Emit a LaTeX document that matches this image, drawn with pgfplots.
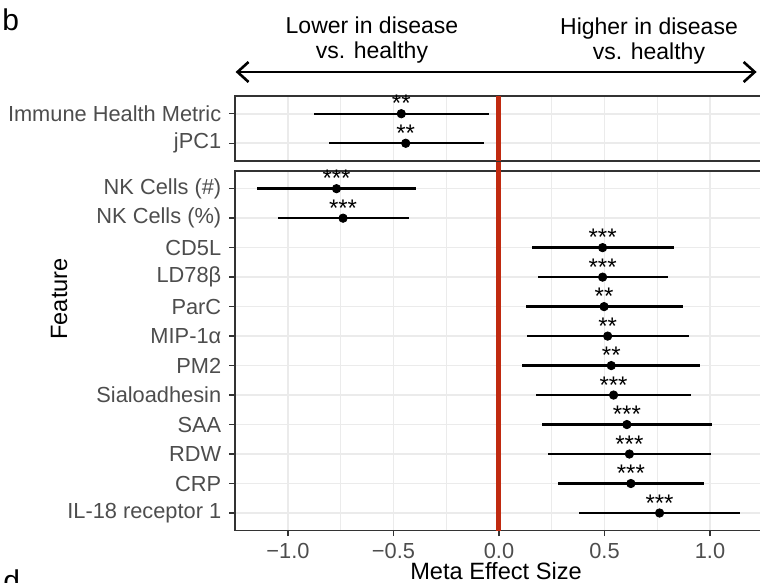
\documentclass[border=0pt]{standalone}
\usepackage{pgfplots}
\pgfplotsset{compat=1.18}
\usepackage{pgfplotstable}
\usepackage{fontspec}
\setmainfont{Liberation Sans}
\usetikzlibrary{arrows.meta}
\definecolor{redline}{RGB}{192,42,16}
\definecolor{gridc}{RGB}{235,235,235}
\definecolor{borderc}{RGB}{51,51,51}
\definecolor{ticktext}{RGB}{77,77,77}

\pgfplotstableread{
row est lo hi sig
12 -0.770 -1.147 -0.392 ***
11 -0.739 -1.048 -0.428 ***
10 0.491 0.157 0.829 ***
9 0.491 0.184 0.800 ***
8 0.498 0.128 0.872 **
7 0.515 0.133 0.899 **
6 0.532 0.111 0.952 **
5 0.543 0.174 0.911 ***
4 0.606 0.206 1.010 ***
3 0.618 0.230 1.005 ***
2 0.625 0.278 0.971 ***
1 0.761 0.381 1.140 ***
}\bottomdata

\pgfplotstableread{
row est lo hi sig
2 -0.463 -0.876 -0.045 **
1 -0.442 -0.807 -0.072 **
}\topdata

\pgfplotsset{
  forest/.style={
    scale only axis,
    anchor=south west,
    width=264.4pt,
    xmin=-1.252, xmax=1.254,
    xtick={-1,-0.5,0,0.5,1},
    minor xtick={-0.75,-0.25,0.25,0.75},
    grid=both,
    major grid style={line width=0.8pt, draw=gridc},
    minor grid style={line width=0.4pt, draw=gridc},
    axis line style={line width=0.7pt, draw=borderc},
    tick style={line width=0.7pt, draw=borderc},
    minor tick length=0pt,
    major tick length=2.75pt,
    tick align=outside,
    tick pos=left,
    ticklabel style={font=\fontsize{10.9}{13}\selectfont, text=ticktext},
    yticklabel style={anchor=east, xshift=-0.5pt},
  },
  cistyle/.style={
    only marks, mark=*, mark size=2.1pt, black,
    mark options={fill=black, draw=black},
    point meta=explicit symbolic,
    nodes near coords,
    every node near coord/.append style={anchor=base, yshift=1pt, inner sep=0pt, font=\fontsize{12}{14}\selectfont, text=black},
    error bars/.cd, x dir=both, x explicit, error mark=none,
    error bar style={line width=1.2pt, black},
  },
}

\begin{document}
\begin{tikzpicture}
% bottom panel
\begin{axis}[forest, at={(117.4pt,26.15pt)}, height=179.85pt,
  ymin=0.4, ymax=12.6, ytick={1,...,12},
  yticklabels={IL-18 receptor 1, CRP, RDW, SAA, Sialoadhesin, PM2, MIP-1α, ParC, LD78β, CD5L, {NK Cells (\%)}, {NK Cells (\#)}},
  xticklabels={−1.0,−0.5,0.0,0.5,1.0},
  xticklabel style={anchor=north, yshift=0pt},
  clip=false]
\addplot[draw=redline, line width=2.5pt, forget plot] coordinates {(0,0.4) (0,12.94)};
\addplot[cistyle] table[x=est, y=row, meta=sig,
  x error plus expr=\thisrow{hi}-\thisrow{est},
  x error minus expr=\thisrow{est}-\thisrow{lo}] {\bottomdata};
\end{axis}
% top panel
\begin{axis}[forest, at={(117.4pt,211pt)}, height=32.5pt,
  ymin=0.4, ymax=2.6, ytick={1,2},
  yticklabels={jPC1, Immune Health Metric},
  xticklabels={}, xtick style={draw=none},
  clip=false]
\addplot[draw=redline, line width=2.5pt, forget plot] coordinates {(0,0.4) (0,2.6)};
\addplot[cistyle] table[x=est, y=row, meta=sig,
  x error plus expr=\thisrow{hi}-\thisrow{est},
  x error minus expr=\thisrow{est}-\thisrow{lo}] {\topdata};
\end{axis}
% annotations
\draw[line width=1.3pt, {Straight Barb[length=5.5pt,width=10pt]}-{Straight Barb[length=5.5pt,width=10pt]}] (117.8pt,255.5pt) -- (378.3pt,255.5pt);
\node[anchor=base, inner sep=0pt, font=\fontsize{11.5}{14}\selectfont] at (186pt,274.8pt) {Lower in disease};
\node[anchor=base, inner sep=0pt, font=\fontsize{11.5}{14}\selectfont] at (186pt,262.2pt) {vs. healthy};
\node[anchor=base, inner sep=0pt, font=\fontsize{11.5}{14}\selectfont] at (324.5pt,274.3pt) {Higher in disease};
\node[anchor=base, inner sep=0pt, font=\fontsize{11.5}{14}\selectfont] at (324.5pt,261.7pt) {vs. healthy};
\node[rotate=90, inner sep=0pt, font=\fontsize{11.8}{14}\selectfont] at (29.5pt,142pt) {Feature};
\node[anchor=base, inner sep=0pt, font=\fontsize{11.8}{14}\selectfont] at (248pt,1.6pt) {Meta Effect Size};
\node[anchor=base west, inner sep=0pt, font=\fontsize{15}{18}\selectfont] at (1pt,276.2pt) {b};
\node[anchor=base west, inner sep=0pt, font=\fontsize{15}{18}\selectfont] at (1.5pt,-4.5pt) {d};
\pgfresetboundingbox
\path[use as bounding box] (0,0) rectangle (380pt,291.5pt);
\end{tikzpicture}
\end{document}
